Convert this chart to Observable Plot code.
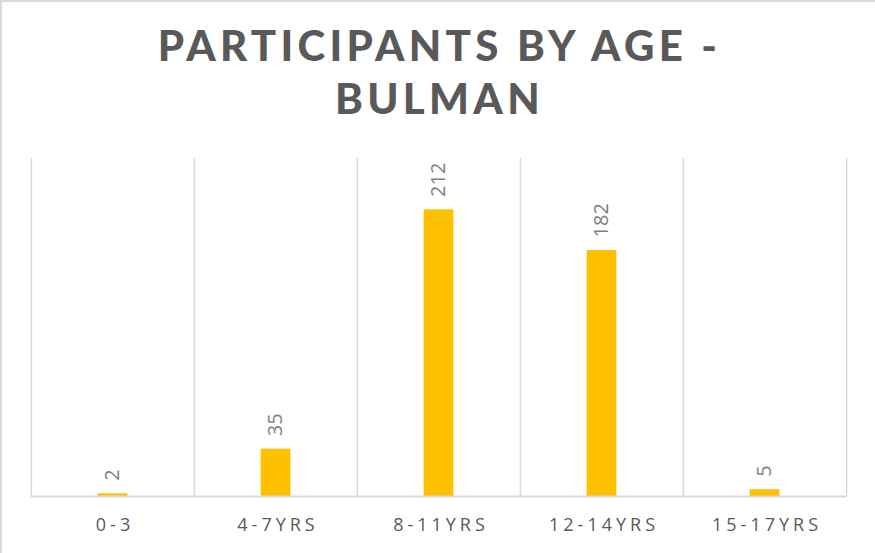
<!DOCTYPE html>
<html>
<head>
<meta charset="utf-8">
<script src="https://cdn.jsdelivr.net/npm/d3@7"></script>
<script src="https://cdn.jsdelivr.net/npm/@observablehq/plot@0.6"></script>
<style>
  html, body { margin: 0; padding: 0; background: #fff; }
  #wrap { position: relative; width: 875px; height: 553px; overflow: hidden; background: #fff; }
  #edge { position: absolute; left: 0; top: 0; width: 875px; height: 553px; box-sizing: border-box;
          border-top: 2px solid #d9d9d9; border-left: 2px solid #d9d9d9; pointer-events: none; }
  #title { height: 140px; box-sizing: border-box; padding-top: 19px; padding-left: 4px; text-align: center;
           font-family: Lato, "Open Sans", sans-serif; font-weight: 900; font-size: 42px;
           line-height: 53px; letter-spacing: 4.3px; color: #595959; }
  svg { display: block; }
  .catlabel text { letter-spacing: 4px; }
</style>
</head>
<body>
<div id="wrap">
  <div id="title">PARTICIPANTS BY AGE -<br>BULMAN</div>
  <div id="chart"></div>
  <div id="edge"></div>
</div>
<script>
const categories = ["0-3", "4-7YRS", "8-11YRS", "12-14YRS", "15-17YRS"];
const values = [2, 35, 212, 182, 5];

const data = categories.map((c, i) => ({category: c, value: values[i]}));

const width = 875;
const height = 410;
const marginLeft = 30.7;
const marginRight = 28.3;
const marginTop = 18;
const marginBottom = 54;
const bw = (width - marginLeft - marginRight) / categories.length;
const barWidth = 30;
const inset = (bw - barWidth) / 2;

const chart = Plot.plot({
  width, height, marginLeft, marginRight, marginTop, marginBottom,
  style: {fontFamily: "'Open Sans', sans-serif", background: "#fff"},
  x: {type: "band", domain: categories, padding: 0, axis: null},
  y: {domain: [0, 250], axis: null},
  marks: [
    Plot.ruleX(categories, {x: d => d, dx: -bw / 2, y1: 0, y2: 250, stroke: "#d9d9d9", strokeWidth: 1.5}),
    Plot.ruleX([categories[categories.length - 1]], {x: d => d, dx: bw / 2, y1: 0, y2: 250, stroke: "#d9d9d9", strokeWidth: 1.5}),
    Plot.barY(data, {x: "category", y: "value", fill: "#ffc000", insetLeft: inset, insetRight: inset}),
    Plot.ruleY([0], {stroke: "#d9d9d9", strokeWidth: 2}),
    Plot.text(data, {x: "category", y: "value", text: d => String(d.value), rotate: -90,
      textAnchor: "start", dy: -13, fontSize: 20, fill: "#7f7f7f"}),
    Plot.text(data, {x: "category", y: 0, text: "category", dy: 29, dx: 2, fontSize: 18,
      fill: "#595959", className: "catlabel"})
  ]
});
document.getElementById("chart").appendChild(chart);
</script>
</body>
</html>
